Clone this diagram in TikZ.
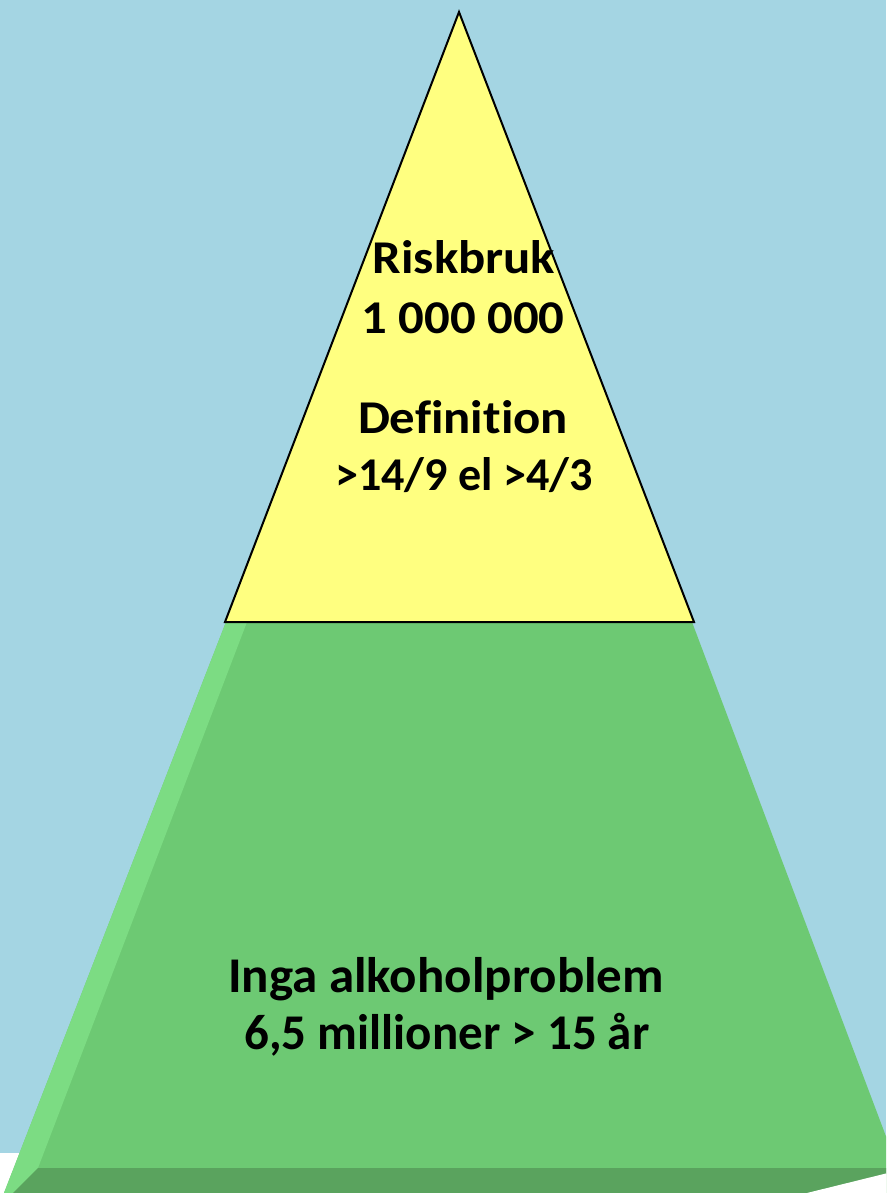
\documentclass[tikz,border=0pt]{standalone}
\usepackage{fontspec}
\setmainfont{Carlito}[Ligatures=NoCommon]
\definecolor{bgblue}{HTML}{A4D5E3}
\definecolor{pyel}{HTML}{FFFF80}
\definecolor{pgreen}{HTML}{6DC973}
\definecolor{plight}{HTML}{7CDC83}
\definecolor{pdark}{HTML}{5AA35E}
\newcommand\hsc[2]{\scalebox{#1}[1]{#2}}
\tikzset{
  toptxt/.style={anchor=base, font=\fontsize{47}{52}\selectfont\bfseries, inner sep=0pt},
  bottxt/.style={anchor=base, font=\fontsize{50}{55}\selectfont\bfseries, inner sep=0pt}
}
\begin{document}
\begin{tikzpicture}[x=1pt,y=-1pt]
\useasboundingbox (0,0) rectangle (886,1193);
\begin{scope}
\clip (0,0) rectangle (886,1193);
\fill[white] (0,0) rectangle (886,1193);
\fill[bgblue] (0,0) rectangle (886,1153);
% green body
\fill[pgreen] (226,622) -- (692,622) -- (910,1200) -- (0,1200) -- (4,1193) -- cycle;
% light bevel on left
\fill[plight] (226,622) -- (247,622) -- (38,1168) -- (13,1193) -- (4,1193) -- cycle;
% dark bottom band
\fill[pdark] (38,1168) -- (910,1168) -- (886,1174) -- (807,1193) -- (13,1193) -- cycle;
\fill[white] (807,1193) -- (900,1170) -- (900,1200) -- (800,1200) -- cycle;
% yellow triangle
\draw[fill=pyel, line width=2pt, line join=miter] (459,12) -- (694,622) -- (225,622) -- cycle;
\end{scope}
\node[toptxt] (t1) at (464,273) {\hsc{1.08}{Riskbruk}};
\node[toptxt] (t2) at (463,333) {\hsc{1.08}{1 000 000}};
\node[toptxt] (t3) at (463,433) {\hsc{1.08}{Definition}};
\node[toptxt] (t4) at (464,490) {\hsc{0.98}{>14/9 el >4/3}};
\node[bottxt] (b1) at (446,992) {\hsc{1.02}{Inga alkoholproblem}};
\node[bottxt] (b2) at (447,1049) {\hsc{0.98}{6,5 millioner > 15 år}};
\end{tikzpicture}
\end{document}
